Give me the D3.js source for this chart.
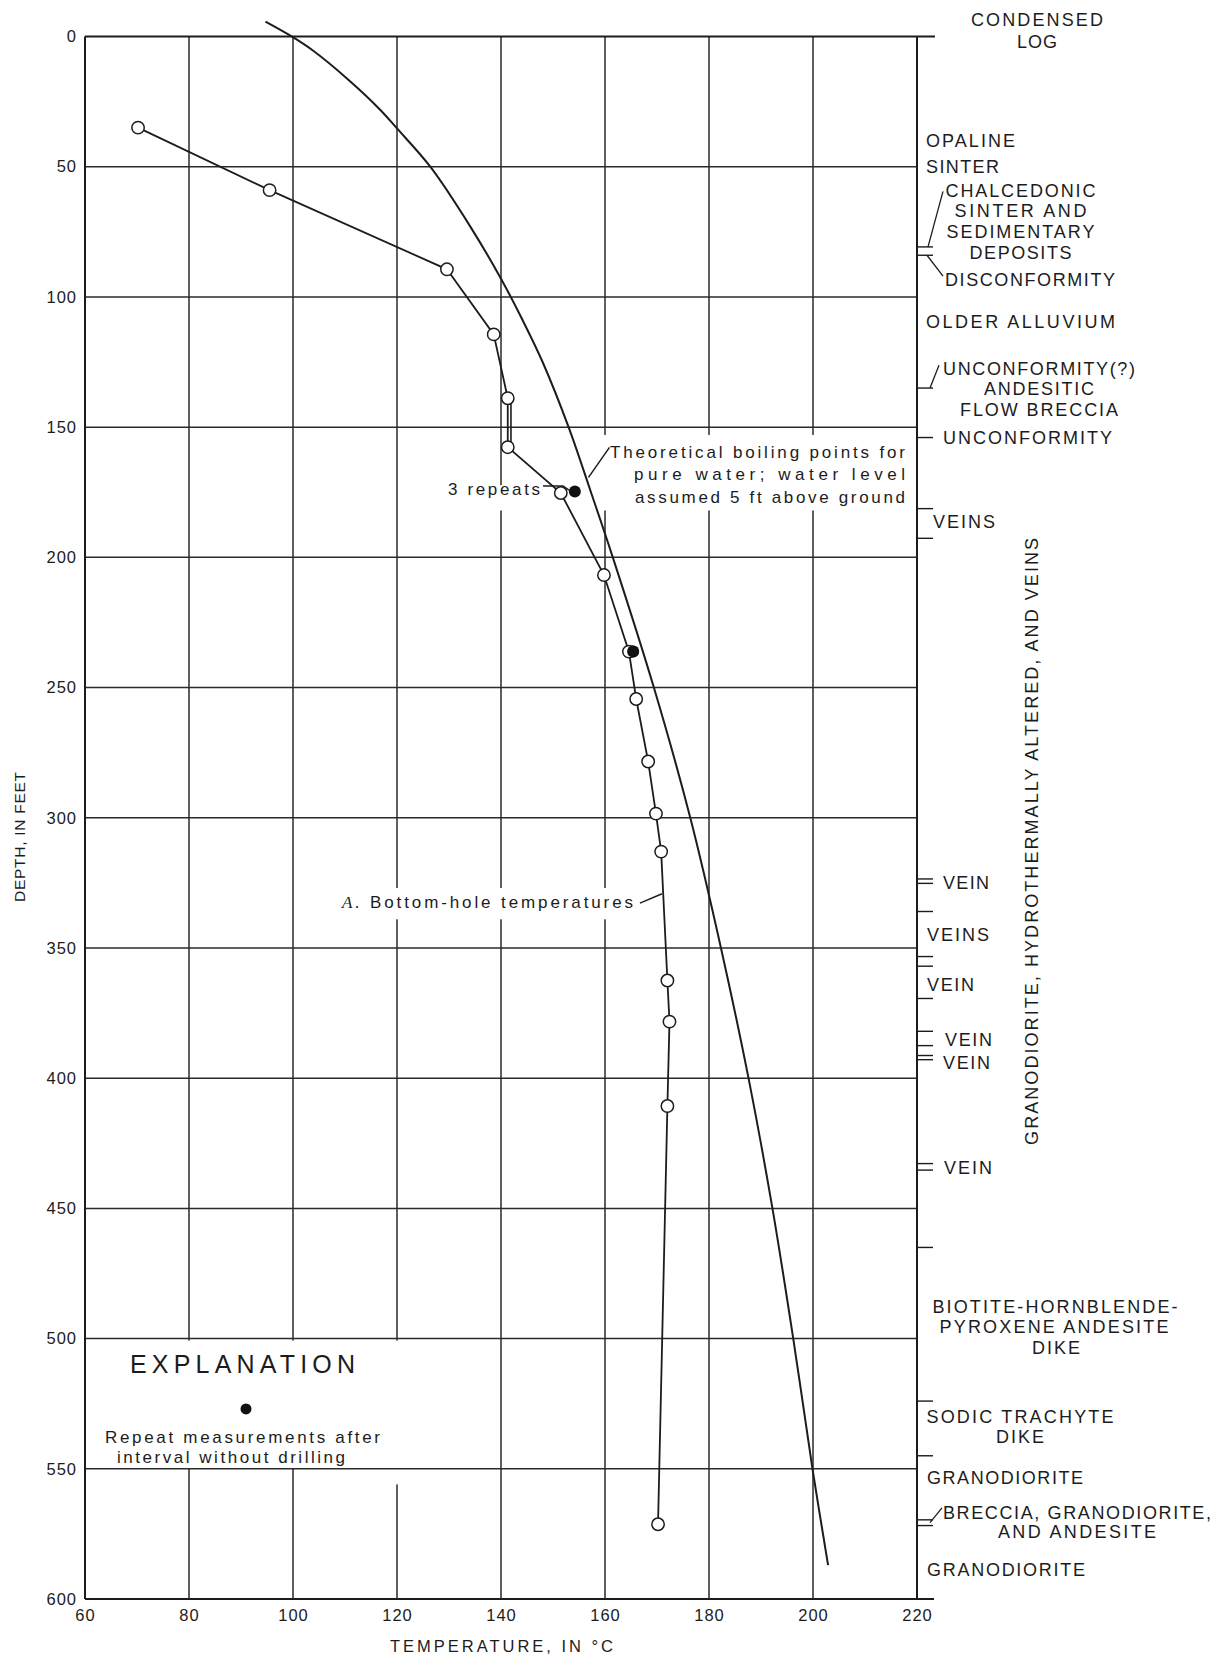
<!DOCTYPE html>
<html><head><meta charset="utf-8">
<script src="https://cdn.jsdelivr.net/npm/d3@7"></script>
<style>
body{margin:0;background:#fff}
svg{display:block}
text{font-family:"Liberation Sans",Arial,Helvetica,sans-serif;fill:#1c1c1c}
</style>
</head><body>
<svg id="chart" width="1222" height="1657"></svg>
<script>
// ---------- DATA ----------
const xTicks = [60, 80, 100, 120, 140, 160, 180, 200, 220];
const yTicks = [0, 50, 100, 150, 200, 250, 300, 350, 400, 450, 500, 550, 600];

// A. Bottom-hole temperatures (open circles)
const bhTemp  = [70.2, 95.5, 129.6, 138.6, 141.3, 141.3, 151.5, 159.8, 164.6, 166.0, 168.3, 169.8, 170.8, 172.0, 172.4, 172.0, 170.2];
const bhDepth = [35.0, 59.0, 89.4, 114.4, 138.9, 157.7, 175.3, 206.8, 236.2, 254.4, 278.4, 298.4, 313.0, 362.5, 378.3, 410.7, 571.3];

// Repeat measurements after interval without drilling (filled dots)
const repTemp  = [154.2, 165.4];
const repDepth = [174.7, 236.2];

// Theoretical boiling points for pure water
const bpTemp  = [94.7, 99.5, 103.7, 110.7, 116.8, 120.0, 126.4, 134.1, 140.0, 144.0, 148.0, 153.0, 157.3, 161.5, 169.4, 176.4, 182.3, 187.6, 192.2, 196.2, 199.9, 202.9];
const bpDepth = [-5.7, -0.3, 5.2, 16.7, 28.2, 35.3, 50.0, 73.0, 93.0, 108.3, 125.0, 150.0, 175.0, 200.0, 250.0, 300.0, 350.0, 400.0, 450.0, 500.0, 550.0, 587.0];

// Condensed log: contact depths (ft)
const logContacts = [80.8, 84.0, 135.0, 154.0, 181.3, 192.7, 323.5, 325.2, 336.0, 353.3, 357.0, 369.4, 382.0, 387.5, 391.3, 392.9, 432.8, 435.3, 465.0, 524.0, 545.0, 569.6, 571.8];

// Condensed log unit names and their depths (ft)
const logNames = ["OPALINE","SINTER","CHALCEDONIC","SINTER AND","SEDIMENTARY","DEPOSITS","DISCONFORMITY",
  "OLDER ALLUVIUM","UNCONFORMITY(?)","ANDESITIC","FLOW BRECCIA","UNCONFORMITY","VEINS","VEIN","VEINS","VEIN",
  "VEIN","VEIN","VEIN","BIOTITE-HORNBLENDE-","PYROXENE ANDESITE","DIKE","SODIC TRACHYTE","DIKE",
  "GRANODIORITE","BRECCIA, GRANODIORITE,","AND ANDESITE","GRANODIORITE"];
const logNameDepth = [39.8, 50.0, 59.0, 67.0, 74.7, 82.8, 93.5, 109.6, 127.4, 135.0, 143.1, 154.1, 186.1, 324.7, 345.0, 364.2,
  385.1, 393.9, 434.5, 487.7, 495.3, 503.3, 529.9, 537.5, 553.3, 566.7, 574.1, 588.5];

// ---------- LAYOUT ----------
const logLayout = [ // [anchor, x, width]
  ["start",926,89],["start",926,73],["middle",1020.5,150],["middle",1020.5,132],["middle",1020.5,148],["middle",1020.5,102],
  ["start",945,170],["start",926,189],["middle",1039,192],["middle",1039,110],["middle",1039,158],["start",943,169],
  ["start",933,62],["start",943,46],["start",927,62],["start",927,47],["start",945,47],["start",943,47],["start",944,48],
  ["middle",1055,245],["middle",1054,229],["middle",1056,48],["middle",1020,187],["middle",1020,48],
  ["start",927,156],["middle",1077,268],["middle",1077,158],["start",927,158]
];

const svg = d3.select("#chart");
const x = d3.scaleLinear().domain([60, 220]).range([85, 917]);
const y = d3.scaleLinear().domain([0, 600]).range([36.5, 1599]);
const ink = "#1c1c1c";

// vertical grid
svg.append("g").selectAll("line").data(xTicks.slice(1, -1)).join("line")
  .attr("x1", d => x(d)).attr("x2", d => x(d)).attr("y1", y(0)).attr("y2", y(600))
  .attr("stroke", "#2a2a2a").attr("stroke-width", 1.5);

// white masks behind annotation text
const masks = [
  [x(60) + 1, y(500) + 2, x(124) - x(60), y(549) - y(500)],
  [x(119), y(549), x(121) - x(119), y(556) - y(549)],
  [x(163.5) - 20, y(153), x(219) - x(163.5) + 20, y(182) - y(153)],
  [x(132), y(172.3), x(151.5) - x(132), y(182) - y(172.3)],
  [x(110.5), y(327), x(167) - x(110.5), y(339) - y(327)]
];
svg.append("g").selectAll("rect").data(masks).join("rect")
  .attr("x", d => d[0]).attr("y", d => d[1]).attr("width", d => d[2]).attr("height", d => d[3])
  .attr("fill", "#fff");

// horizontal grid
svg.append("g").selectAll("line").data(yTicks.slice(1, -1)).join("line")
  .attr("x1", x(60)).attr("x2", x(220)).attr("y1", d => y(d)).attr("y2", d => y(d))
  .attr("stroke", "#2a2a2a").attr("stroke-width", 1.5);

// frame
const frame = svg.append("g").attr("stroke", ink).attr("stroke-width", 2);
frame.append("line").attr("x1", x(60)).attr("x2", x(60)).attr("y1", y(0)).attr("y2", y(600));
frame.append("line").attr("x1", x(220)).attr("x2", x(220)).attr("y1", y(0)).attr("y2", y(600));
frame.append("line").attr("x1", x(60)).attr("x2", x(220) + 18).attr("y1", y(0)).attr("y2", y(0));
frame.append("line").attr("x1", x(60)).attr("x2", x(220) + 17).attr("y1", y(600)).attr("y2", y(600));

// axes (labels)
const yAxis = svg.append("g").attr("transform", `translate(${x(60)},0)`)
  .call(d3.axisLeft(y).tickValues(yTicks).tickSize(0).tickPadding(8).tickFormat(d3.format("d")));
const xAxis = svg.append("g").attr("transform", `translate(0,${y(600)})`)
  .call(d3.axisBottom(x).tickValues(xTicks).tickSize(0).tickPadding(10).tickFormat(d3.format("d")));
[yAxis, xAxis].forEach(a => {
  a.select(".domain").remove();
  a.selectAll("text").attr("font-size", 16.5).attr("letter-spacing", 1).attr("fill", ink)
    .style("font-family", '"Liberation Sans",Arial,sans-serif');
});

// axis titles
svg.append("text").attr("x", 501.5).attr("y", 1652).attr("text-anchor", "middle")
  .attr("font-size", 16.5).attr("textLength", 223).attr("lengthAdjust", "spacing").text("TEMPERATURE, IN °C");
svg.append("text").attr("transform", "translate(24.5,837) rotate(-90)").attr("text-anchor", "middle")
  .attr("font-size", 15.5).attr("textLength", 130).attr("lengthAdjust", "spacing").text("DEPTH, IN FEET");

// boiling point curve
svg.append("path")
  .datum(bpTemp.map((t, i) => [t, bpDepth[i]]))
  .attr("fill", "none").attr("stroke", ink).attr("stroke-width", 2)
  .attr("d", d3.line().x(d => x(d[0])).y(d => y(d[1])).curve(d3.curveCatmullRom.alpha(0.5)));

// bottom-hole temperature line
const bh = bhTemp.map((t, i) => [t, bhDepth[i]]);
svg.append("path").datum(bh)
  .attr("fill", "none").attr("stroke", ink).attr("stroke-width", 1.8)
  .attr("d", d3.line().x(d => x(d[0])).y(d => y(d[1])));
// doubled segment between the two 141 °C readings
svg.append("line")
  .attr("x1", x(bh[4][0]) + 3.2).attr("x2", x(bh[5][0]) + 3.2)
  .attr("y1", y(bh[4][1])).attr("y2", y(bh[5][1]))
  .attr("stroke", ink).attr("stroke-width", 1.6);

// repeat filled dots
svg.append("g").selectAll("circle").data(repTemp.map((t, i) => [t, repDepth[i]])).join("circle")
  .attr("cx", d => x(d[0])).attr("cy", d => y(d[1])).attr("r", 6).attr("fill", "#111");

// open circles
svg.append("g").selectAll("circle").data(bh).join("circle")
  .attr("cx", d => x(d[0])).attr("cy", d => y(d[1])).attr("r", 6.2)
  .attr("fill", "#fff").attr("stroke", ink).attr("stroke-width", 1.5);
// filled dot overlapping the open circle at 236 ft on top
svg.append("circle").attr("cx", x(repTemp[1])).attr("cy", y(repDepth[1])).attr("r", 6).attr("fill", "#111");

// annotations
const ann = svg.append("g").attr("font-size", 17);
const annLines = [["Theoretical boiling points for", 159.4, 295], ["pure  water;  water  level", 168.0, 271], ["assumed 5 ft above ground", 176.6, 270]];
ann.selectAll("text.bp").data(annLines).join("text").attr("class", "bp")
  .attr("x", 905).attr("y", d => y(d[1])).attr("dy", "0.36em").attr("text-anchor", "end")
  .attr("textLength", d => d[2]).attr("lengthAdjust", "spacing").text(d => d[0]);
svg.append("line").attr("x1", 588.5).attr("y1", y(169.3)).attr("x2", 609.5).attr("y2", y(157.8))
  .attr("stroke", ink).attr("stroke-width", 1.5);

ann.append("text").attr("x", 448).attr("y", y(173.6)).attr("dy", "0.36em")
  .attr("textLength", 92).attr("lengthAdjust", "spacing").text("3 repeats");
svg.append("path").attr("d", `M543,${y(172.6)} L563,${y(172.6)} L569,${y(174.2)}`)
  .attr("fill", "none").attr("stroke", ink).attr("stroke-width", 1.4);

const at = ann.append("text").attr("x", 342).attr("y", y(332.4)).attr("dy", "0.36em")
  .attr("textLength", 291).attr("lengthAdjust", "spacing");
at.append("tspan").attr("font-style", "italic").attr("font-family", '"Liberation Serif","Times New Roman",serif').text("A.");
at.append("tspan").text("  Bottom-hole temperatures");
svg.append("line").attr("x1", 640).attr("y1", y(332.8)).attr("x2", 662).attr("y2", y(329.2))
  .attr("stroke", ink).attr("stroke-width", 1.5);

// explanation
svg.append("text").attr("x", 242.5).attr("y", y(509.8)).attr("dy", "0.36em").attr("text-anchor", "middle")
  .attr("font-size", 25).attr("textLength", 225).attr("lengthAdjust", "spacing").text("EXPLANATION");
svg.append("circle").attr("cx", 246).attr("cy", y(527)).attr("r", 5.5).attr("fill", "#111");
svg.append("text").attr("x", 242.5).attr("y", y(537.7)).attr("dy", "0.36em").attr("text-anchor", "middle")
  .attr("font-size", 17).attr("textLength", 275).attr("lengthAdjust", "spacing").text("Repeat measurements after");
svg.append("text").attr("x", 231).attr("y", y(545.3)).attr("dy", "0.36em").attr("text-anchor", "middle")
  .attr("font-size", 17).attr("textLength", 228).attr("lengthAdjust", "spacing").text("interval without drilling");

// condensed log
const xr = x(220);
svg.append("text").attr("x", 1037).attr("y", 20).attr("dy", "0.36em").attr("text-anchor", "middle")
  .attr("font-size", 18).attr("textLength", 132).attr("lengthAdjust", "spacing").text("CONDENSED");
svg.append("text").attr("x", 1037).attr("y", 42).attr("dy", "0.36em").attr("text-anchor", "middle")
  .attr("font-size", 18).attr("textLength", 40).attr("lengthAdjust", "spacing").text("LOG");

svg.append("g").selectAll("line").data(logContacts).join("line")
  .attr("x1", xr).attr("x2", xr + 16).attr("y1", d => y(d)).attr("y2", d => y(d))
  .attr("stroke", ink).attr("stroke-width", 1.4);

// leaders in the log
const leaders = [
  [[xr + 11, 80.8], [xr + 26, 59.5]],
  [[xr + 10, 84.0], [xr + 26, 92.0]],
  [[xr + 13, 135.0], [xr + 22, 126.2]],
  [[xr + 13, 570.7], [xr + 25, 565.0]]
];
svg.append("g").selectAll("line").data(leaders).join("line")
  .attr("x1", d => d[0][0]).attr("y1", d => y(d[0][1])).attr("x2", d => d[1][0]).attr("y2", d => y(d[1][1]))
  .attr("stroke", ink).attr("stroke-width", 1.3);

svg.append("g").selectAll("text").data(logNames).join("text")
  .attr("x", (d, i) => logLayout[i][1]).attr("y", (d, i) => y(logNameDepth[i])).attr("dy", "0.36em")
  .attr("text-anchor", (d, i) => logLayout[i][0])
  .attr("font-size", 18).attr("textLength", (d, i) => logLayout[i][2]).attr("lengthAdjust", "spacing")
  .text(d => d);

svg.append("text").attr("transform", `translate(1038,${y(309.1)}) rotate(-90)`).attr("text-anchor", "middle")
  .attr("font-size", 18).attr("textLength", 607).attr("lengthAdjust", "spacing")
  .text("GRANODIORITE, HYDROTHERMALLY ALTERED, AND VEINS");
</script>
</body></html>
